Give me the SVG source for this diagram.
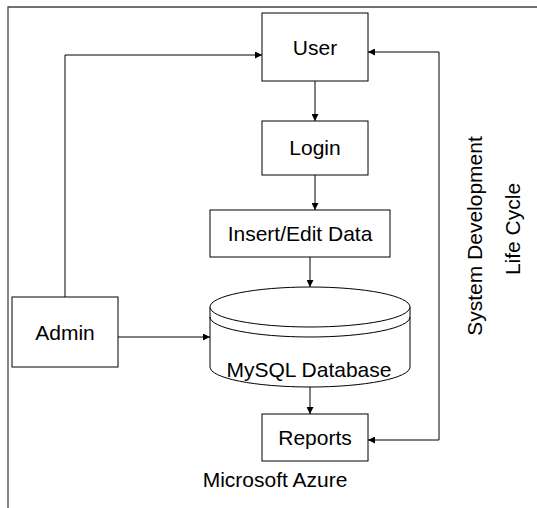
<svg xmlns="http://www.w3.org/2000/svg" width="537" height="508" viewBox="0 0 537 508">
<style>
.box{fill:#fff;stroke:#000;stroke-width:1}
.lbl{font-family:"Liberation Sans",Arial,sans-serif;font-size:21px;fill:#000;text-anchor:middle}
.con{fill:none;stroke:#000;stroke-width:1}
.frame{fill:none;stroke:#444;stroke-width:1.3}
</style>
<defs>
<marker id="ah" viewBox="0 0 10 10" refX="10" refY="5" markerWidth="7" markerHeight="7" markerUnits="userSpaceOnUse" orient="auto-start-reverse">
<path d="M0,0 L10,5 L0,10 z" fill="#000"/>
</marker>
</defs>
<path class="frame" d="M8,508 V7 H537"/>
<g id="connectors">
<path class="con" d="M65,297 V55 H262" marker-end="url(#ah)"/>
<path class="con" d="M368,52 H439 V440 H368" marker-start="url(#ah)" marker-end="url(#ah)"/>
<path class="con" d="M315,81 V121" marker-end="url(#ah)"/>
<path class="con" d="M315,175 V210" marker-end="url(#ah)"/>
<path class="con" d="M310,257 V287" marker-end="url(#ah)"/>
<path class="con" d="M118,337 H210" marker-end="url(#ah)"/>
<path class="con" d="M310,387 V414" marker-end="url(#ah)"/>
</g>
<g id="user">
<rect class="box" x="262" y="13" width="106" height="68"/>
<text class="lbl" x="315" y="55">User</text>
</g>
<g id="login">
<rect class="box" x="262" y="121" width="106" height="54"/>
<text class="lbl" x="315" y="155">Login</text>
</g>
<g id="insert">
<rect class="box" x="210" y="210" width="180" height="47"/>
<text class="lbl" x="300" y="241">Insert/Edit Data</text>
</g>
<g id="database">
<path class="box" d="M210,307 V367 A100,20 0 0 0 410,367 V307"/>
<ellipse class="box" cx="310" cy="307" rx="100" ry="20"/>
<path class="con" d="M210,317 A100,20 0 0 0 410,317"/>
<text class="lbl" x="309" y="377">MySQL Database</text>
</g>
<g id="admin">
<rect class="box" x="12" y="297" width="106" height="70"/>
<text class="lbl" x="65" y="340">Admin</text>
</g>
<g id="reports">
<rect class="box" x="262" y="414" width="106" height="47"/>
<text class="lbl" x="315" y="445">Reports</text>
</g>
<g id="azure">
<text class="lbl" x="275" y="487">Microsoft Azure</text>
</g>
<g id="sdlc">
<text class="lbl" transform="translate(474,236) rotate(-90)" y="7.5">System Development</text>
<text class="lbl" transform="translate(512,229) rotate(-90)" y="7.5">Life Cycle</text>
</g>
</svg>
